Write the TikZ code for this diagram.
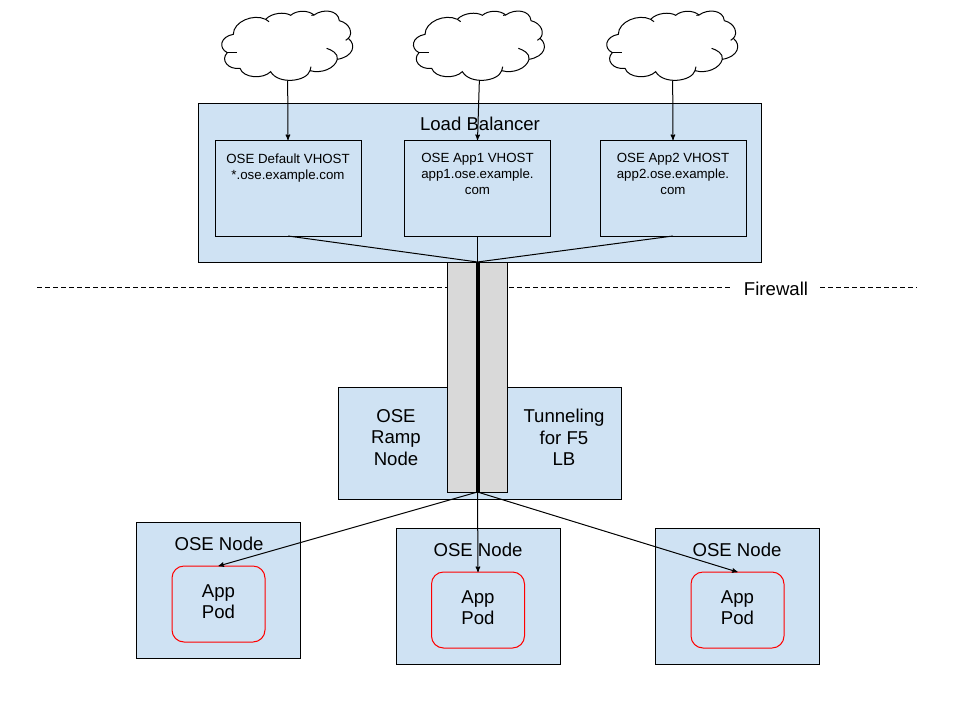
\documentclass[tikz,border=0pt]{standalone}
\usepackage{fontspec}
\setmainfont{Liberation Sans}
\usetikzlibrary{arrows}
\definecolor{boxblue}{HTML}{CFE2F3}
\definecolor{tunnelgray}{HTML}{D9D9D9}
\tikzset{
  box/.style={draw=black,fill=boxblue,outer sep=0pt,inner sep=0pt},
  vhost/.style={box,minimum width=146pt,minimum height=96pt},
  osenode/.style={box,minimum width=164pt,minimum height=136pt},
  pod/.style={draw=red,fill=boxblue,rounded corners=12pt,outer sep=0pt,inner sep=0pt,
              minimum width=93pt,minimum height=76pt},
  big/.style={align=center,inner sep=0pt,font=\fontsize{18.6}{21.5}\selectfont},
  small/.style={align=center,inner sep=0pt,font=\fontsize{13.3}{16}\selectfont}
}
% cloud outline, #1 is the name of its lower end, #2 its horizontal shift
\newcommand{\netcloud}[2]{
  \begin{scope}[-,shift={(#2,0)},x=0.3333pt,y=-0.3333pt]
    \draw[fill=white] (100,103) .. controls (100,65) and (160,40) .. (197,58)
      .. controls (215,38) and (255,35) .. (272,46)
      .. controls (290,30) and (325,30) .. (342,45)
      .. controls (370,25) and (415,30) .. (418,62)
      .. controls (450,70) and (460,100) .. (445,115)
      .. controls (470,135) and (460,170) .. (412,178)
      .. controls (405,205) and (365,222) .. (330,212)
      .. controls (320,245) and (235,255) .. (212,215)
      .. controls (190,238) and (130,235) .. (120,205)
      .. controls (85,210) and (60,180) .. (82,158)
      .. controls (55,145) and (60,110) .. (100,103) -- cycle;
    \draw (412,178) .. controls (415,160) and (395,150) .. (380,145);
    \draw (82,158) -- (112,158);
    \draw (197,58) -- (207,65);
    \draw (342,45) -- (334,46);
    \draw (445,115) -- (437,121);
    \draw (330,212) -- (333,200);
    \coordinate (#1) at (263,242);
  \end{scope}
}
\begin{document}
\begin{tikzpicture}[->,>=stealth',x=1pt,y=-1pt,line width=1pt]
  \useasboundingbox (0,0) rectangle (960,720);

  % top row
  \netcloud{netA}{200}
  \netcloud{netB}{391.7}
  \netcloud{netC}{585}

  \node[box,minimum width=563pt,minimum height=159pt] (lb) at (479.5,182.5) {};
  \node[big] (lbtext) at (480,124) {Load Balancer};

  \node[vhost] (hostA) at (288,188) {};
  \node[vhost] (hostB) at (477.5,188) {};
  \node[vhost] (hostC) at (673,188) {};
  \node[small,anchor=north] (hostAtext) at (288,153) {OSE Default VHOST\\*.ose.example.com};
  \node[small,anchor=north] (hostBtext) at (477.5,153) {OSE App1 VHOST\\app1.ose.example.\\com};
  \node[small,anchor=north] (hostCtext) at (673,153) {OSE App2 VHOST\\app2.ose.example.\\com};

  % firewall line
  \coordinate (fwA) at (37,287.5);
  \coordinate (fwB) at (730,287.5);
  \coordinate (fwC) at (820,287.5);
  \coordinate (fwD) at (917,287.5);
  \node[big] (fwtext) at (776,288.5) {Firewall};
  \draw[-,dash pattern=on 5pt off 3pt] (fwA) -- (fwB);
  \draw[-,dash pattern=on 5pt off 3pt] (fwC) -- (fwD);

  % ramp node
  \node[box,minimum width=283pt,minimum height=112pt] (ramp) at (479.5,443) {};
  \node[big] (ramptext) at (396,437.5) {OSE\\Ramp\\Node};
  \node[big] (f5text) at (564,437.5) {Tunneling\\for F5\\LB};
  \node[draw=black,fill=tunnelgray,outer sep=0pt,inner sep=0pt,
        minimum width=60pt,minimum height=230pt] (tunnel) at (477.5,377) {};

  % bottom row
  \node[osenode] (nodeA) at (218,590) {};
  \node[osenode] (nodeB) at (478,596) {};
  \node[osenode] (nodeC) at (737,596) {};
  \node[big] (nodeAtext) at (219,544) {OSE Node};
  \node[big] (nodeBtext) at (478,550) {OSE Node};
  \node[big] (nodeCtext) at (737,550) {OSE Node};
  \node[pod] (podA) at (218.5,604) {};
  \node[pod] (podB) at (478,610) {};
  \node[pod] (podC) at (737.5,610) {};
  \node[big] (podAtext) at (218.5,601.5) {App\\Pod};
  \node[big] (podBtext) at (478,607.5) {App\\Pod};
  \node[big] (podCtext) at (737.5,607.5) {App\\Pod};

  \path (netA) edge (hostA.north)
        (netB) edge (hostB.north)
        (netC) edge (hostC.north);

  \draw[-] (hostA.south) -- (tunnel.north);
  \draw[-] (hostB.south) -- (tunnel.north);
  \draw[-] (hostC.south) -- (tunnel.north);
  \draw[-,line width=4pt] (tunnel.north) -- (tunnel.south);

  \path (tunnel.south) edge (podA.north)
                       edge (podB.north)
                       edge (podC.north);
\end{tikzpicture}
\end{document}
